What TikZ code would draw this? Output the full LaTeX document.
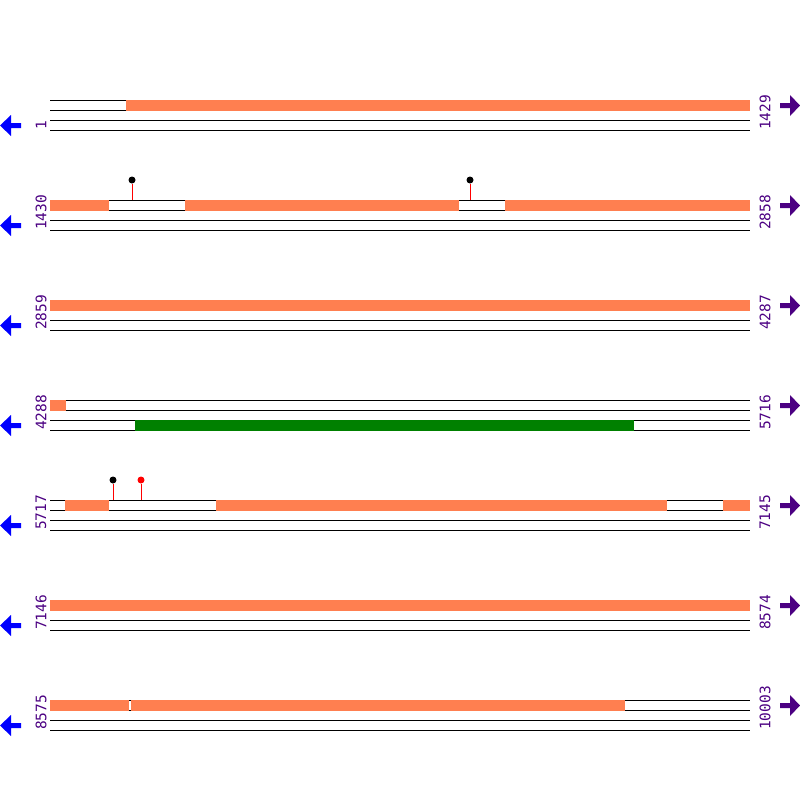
\documentclass[tikz,border=0pt]{standalone}
\usepackage{fontspec}
\newfontfamily\posfont{DejaVu Sans Mono}
\definecolor{coral}{RGB}{255,127,80}
\definecolor{indigo}{RGB}{75,0,130}
\definecolor{cdsgreen}{RGB}{0,128,0}

\begin{document}
\begin{tikzpicture}[
    x=1pt, y=-1pt,
    strand/.style={line width=1pt},
    feat/.style={fill=coral},
    cds/.style={fill=cdsgreen},
    posnum/.style={font=\posfont\fontsize{14.5}{14.5}\selectfont, text=indigo, rotate=90, anchor=west, inner sep=0pt},
    stick/.style={red, line width=1pt},
    snp/.style={circle, inner sep=0pt, minimum size=7pt},
]
\useasboundingbox (0,0) rectangle (800,800);

% strands, positions and direction arrows
\foreach \r/\lo/\hi in {0/1/1429, 1/1430/2858, 2/2859/4287, 3/4288/5716, 4/5717/7145, 5/7146/8574, 6/8575/10003}{
  \pgfmathsetmacro\y{100+100*\r}
  \draw[strand] (50,\y) -- (750,\y);
  \draw[strand] (50,\y+10) -- (750,\y+10);
  \draw[strand] (50,\y+20) -- (750,\y+20);
  \draw[strand] (50,\y+30) -- (750,\y+30);
  \node[posnum] (lo\r) at (41,\y+30) {\lo};
  \node[posnum] (hi\r) at (765,\y+30) {\hi};
  \fill[blue] (0,\y+25.5) -- (11,\y+15) -- (11,\y+23) -- (21,\y+23) -- (21,\y+28) -- (11,\y+28) -- (11,\y+36) -- cycle;
  \fill[indigo] (800,\y+5.5) -- (790,\y-5) -- (790,\y+3) -- (780,\y+3) -- (780,\y+8) -- (790,\y+8) -- (790,\y+16) -- cycle;
}

% forward features
\fill[feat] (126,99.5) rectangle (750,110.5);
\fill[feat] (50,199.5) rectangle (109,210.5);
\fill[feat] (185,199.5) rectangle (459,210.5);
\fill[feat] (505,199.5) rectangle (750,210.5);
\fill[feat] (50,299.5) rectangle (750,310.5);
\fill[feat] (50,399.5) rectangle (66,410.5);
\fill[feat] (65,499.5) rectangle (109,510.5);
\fill[feat] (216,499.5) rectangle (667,510.5);
\fill[feat] (723,499.5) rectangle (750,510.5);
\fill[feat] (50,599.5) rectangle (750,610.5);
\fill[feat] (50,699.5) rectangle (129,710.5);
\fill[feat] (131,699.5) rectangle (625,710.5);

% reverse feature
\fill[cds] (135,419.5) rectangle (634,430.5);

% variant markers
\node[snp, fill=black] (snp1) at (132,180) {};
\node[snp, fill=black] (snp2) at (470,180) {};
\node[snp, fill=black] (snp3) at (113,480) {};
\node[snp, fill=red] (snp4) at (141,480) {};
\coordinate (base1) at (132,200);
\coordinate (base2) at (470,200);
\coordinate (base3) at (113,500);
\coordinate (base4) at (141,500);
\foreach \i in {1,...,4}
  \draw[stick] (base\i) -- (snp\i);
\end{tikzpicture}
\end{document}
